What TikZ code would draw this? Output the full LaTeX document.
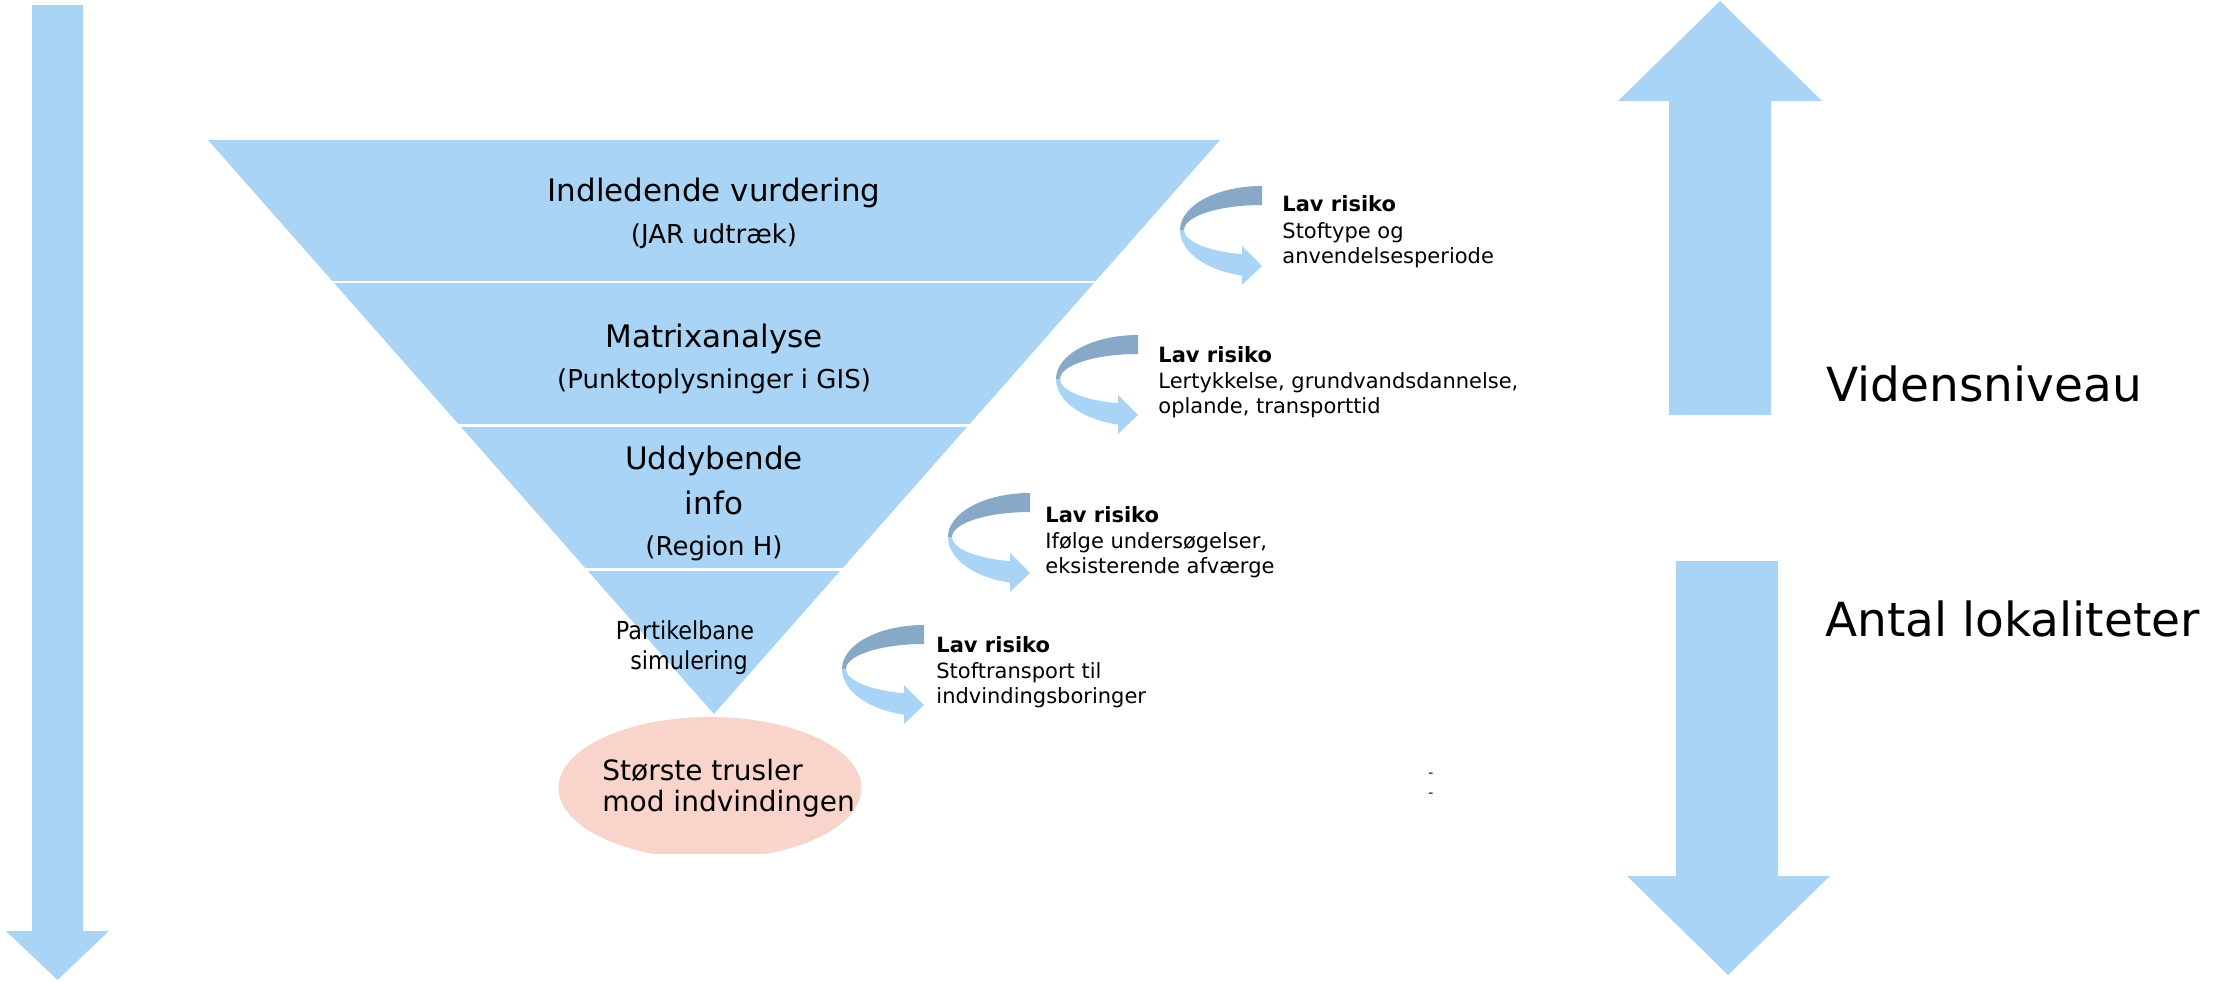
\documentclass[tikz,border=0pt]{standalone}
\usepackage{fontspec}
\setmainfont{DejaVu Sans}
\definecolor{fblue}{RGB}{169,212,245}
\definecolor{rdark}{RGB}{135,168,198}
\definecolor{epink}{RGB}{248,212,203}
\tikzset{
  ribbon/.pic={
    \fill[rdark] (0,0) arc[start angle=270, end angle=180, x radius=82, y radius=44]
      -- (-78,44) arc[start angle=180, end angle=270, x radius=78, y radius=25] -- cycle;
    \fill[fblue] (-82,44) arc[start angle=180, end angle=104.1, x radius=82, y radius=47]
      -- (-20,99) -- (0,80) -- (-20,60) -- (-20,68.2)
      arc[start angle=104.86, end angle=180, x radius=78, y radius=25] -- cycle;
  },
  mainlbl/.style={anchor=base, inner sep=0pt, font=\fontsize{15.5}{18}\selectfont},
  sublbl/.style={anchor=base, inner sep=0pt, font=\fontsize{13}{15}\selectfont},
  partlbl/.style={anchor=base, inner sep=0pt, xscale=0.9, font=\fontsize{12.4}{14}\selectfont},
  risk/.style={anchor=base west, inner sep=0pt, font=\fontsize{10.5}{12.6}\selectfont\bfseries},
  riskt/.style={anchor=base west, inner sep=0pt, font=\fontsize{10.5}{12.6}\selectfont},
  biglbl/.style={anchor=base west, inner sep=0pt, font=\fontsize{23.5}{28}\selectfont},
  elbl/.style={anchor=base west, inner sep=0pt, font=\fontsize{14}{17}\selectfont},
  dashlbl/.style={inner sep=0pt, font=\fontsize{7}{8}\selectfont},
  sep/.style={draw=white, line width=1.3pt}
}
\begin{document}
\begin{tikzpicture}[x=0.5pt,y=-0.5pt]
\useasboundingbox (0,0) rectangle (2216,981);
% left long down arrow
\fill[fblue] (32,5) -- (83,5) -- (83,931) -- (109,931) -- (57.5,980) -- (6,931) -- (32,931) -- cycle;
% up arrow
\fill[fblue] (1720,1) -- (1822,101) -- (1771,101) -- (1771,415) -- (1669,415) -- (1669,101) -- (1618,101) -- cycle;
% down arrow
\fill[fblue] (1676,561) -- (1778,561) -- (1778,876) -- (1830,876) -- (1728,975) -- (1627,876) -- (1676,876) -- cycle;
% funnel
\fill[fblue] (208,140) -- (1220,140) -- (714,714) -- cycle;
\draw[sep] (328,282) -- (1100,282);
\draw[sep] (455,425.5) -- (973,425.5);
\draw[sep] (582,569.5) -- (846,569.5);
% ellipse
\begin{scope}
\clip (0,0) rectangle (2216,853);
\fill[epink] (710,788) ellipse [x radius=151.5, y radius=71];
\end{scope}
% funnel texts
\node[mainlbl] (l1a) at (714,201.7) {Indledende vurdering};
\node[sublbl] (l1b) at (714,243.3) {(JAR udtræk)};
\node[mainlbl] (l2a) at (714,347) {Matrixanalyse};
\node[sublbl] (l2b) at (714,388) {(Punktoplysninger i GIS)};
\node[mainlbl] (l3a) at (714,469) {Uddybende};
\node[mainlbl] (l3b) at (714,514) {info};
\node[sublbl] (l3c) at (714,555) {(Region H)};
\node[partlbl] (l4a) at (685,639) {Partikelbane};
\node[partlbl] (l4b) at (689,669) {simulering};
% ellipse texts
\node[elbl] (e1) at (602,780.7) {Største trusler};
\node[elbl] (e2) at (602,811.7) {mod indvindingen};
% ribbons
\pic at (1262,186) {ribbon};
\pic at (1138,335) {ribbon};
\pic at (1030,493) {ribbon};
\pic at (924,625) {ribbon};
% risk texts
\node[risk] (r1a) at (1282,211.7) {Lav risiko};
\node[riskt] (r1b) at (1282,238.3) {Stoftype og};
\node[riskt] (r1c) at (1282,263.3) {anvendelsesperiode};
\node[risk] (r2a) at (1158,362) {Lav risiko};
\node[riskt] (r2b) at (1158,388.3) {Lertykkelse, grundvandsdannelse,};
\node[riskt] (r2c) at (1158,413.3) {oplande, transporttid};
\node[risk] (r3a) at (1045,522) {Lav risiko};
\node[riskt] (r3b) at (1045,548.3) {Ifølge undersøgelser,};
\node[riskt] (r3c) at (1045,573.3) {eksisterende afværge};
\node[risk] (r4a) at (936,652) {Lav risiko};
\node[riskt] (r4b) at (936,678.3) {Stoftransport til};
\node[riskt] (r4c) at (936,703.3) {indvindingsboringer};
% right labels
\node[biglbl] (vid) at (1826,401.7) {Vidensniveau};
\node[biglbl] (ant) at (1825,636) {Antal lokaliteter};
% stray dashes
\node[dashlbl] (d1) at (1431,775) {-};
\node[dashlbl] (d2) at (1431,795) {-};
\end{tikzpicture}
\end{document}
